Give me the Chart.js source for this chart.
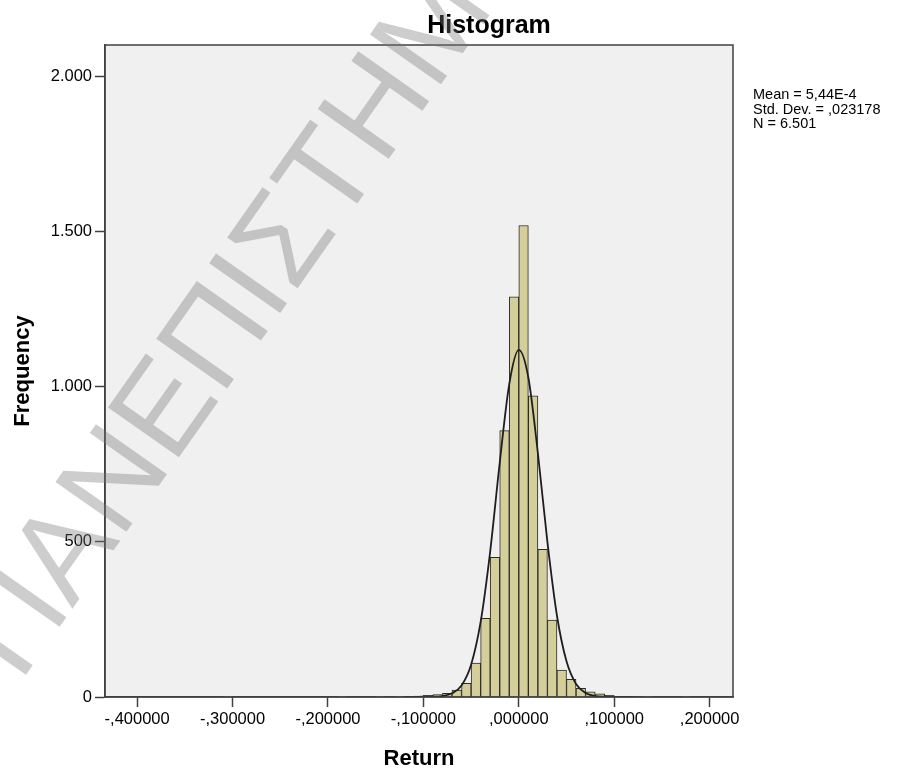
<!DOCTYPE html>
<html>
<head>
<meta charset="utf-8">
<title>Histogram</title>
<script src="https://cdn.jsdelivr.net/npm/chart.js"></script>
<style>
  html, body { margin: 0; padding: 0; background: #fff; }
  canvas { display: block; }
</style>
</head>
<body>
<canvas id="myChart" width="908" height="770"></canvas>
<script>
// ===============================
// Datos leidos del histograma (bins de 0,01)
// ===============================
const binCenters = [-0.305, -0.185, -0.145, -0.125, -0.115, -0.105, -0.095, -0.085, -0.075, -0.065,
                    -0.055, -0.045, -0.035, -0.025, -0.015, -0.005, 0.005, 0.015, 0.025, 0.035,
                    0.045, 0.055, 0.065, 0.075, 0.085, 0.095, 0.105, 0.135, 0.175];
const counts = [1, 1, 1, 2, 2, 3, 5, 8, 12, 22,
                44, 109, 254, 450, 859, 1290, 1520, 971, 476, 248,
                87, 57, 28, 17, 10, 5, 2, 2, 1];

// curva normal
const curveX = [-0.12, -0.11, -0.10, -0.09, -0.08, -0.07, -0.06, -0.05, -0.04, -0.03, -0.02, -0.01, 0,
                0.01, 0.02, 0.03, 0.04, 0.05, 0.06, 0.07, 0.08, 0.09, 0.10, 0.11, 0.12];
const curveY = [0, 0, 1, 1, 3, 12, 37, 104, 242, 469, 755, 1009, 1119,
                1030, 786, 499, 262, 115, 42, 13, 3, 1, 0, 0, 0];

const xTicks = [-0.4, -0.3, -0.2, -0.1, 0, 0.1, 0.2];
const xTickLabels = ['-,400000', '-,300000', '-,200000', '-,100000', ',000000', ',100000', ',200000'];
const yTicks = [0, 500, 1000, 1500, 2000];
const yTickLabels = ['0', '500', '1.000', '1.500', '2.000'];
const statsLines = ['Mean = 5,44E-4', 'Std. Dev. = ,023178', 'N = 6.501'];
const chartTitle = 'Histogram';
const watermark = 'ΠΑΝΕΠΙΣΤΗΜΙΟ ΠΕΙΡΑΙΩΣ';

const FONT = "'Liberation Sans', Arial, sans-serif";

// ===============================
// Plugin: fondo, marco, titulo, estadisticas, marca de agua
// ===============================
const decorPlugin = {
    id: 'decor',
    beforeDraw(chart) {
        const { ctx, chartArea: a } = chart;
        ctx.save();
        ctx.fillStyle = '#fff';
        ctx.fillRect(0, 0, chart.width, chart.height);
        ctx.fillStyle = '#f0f0f0';
        ctx.fillRect(a.left, a.top, a.right - a.left, a.bottom - a.top);
        ctx.restore();
    },
    afterDraw(chart) {
        const { ctx, chartArea: a } = chart;
        ctx.save();
        ctx.strokeStyle = '#404040';
        ctx.lineWidth = 1.5;
        ctx.strokeRect(a.left, a.top, a.right - a.left, a.bottom - a.top);

        ctx.fillStyle = '#000';
        ctx.font = 'bold 25px ' + FONT;
        ctx.textAlign = 'center';
        ctx.textBaseline = 'alphabetic';
        ctx.fillText(chartTitle, 489, 33);

        ctx.font = '14.5px ' + FONT;
        ctx.textAlign = 'left';
        statsLines.forEach((t, i) => ctx.fillText(t, a.right + 20, 99 + i * 14.5));

        // marca de agua
        const size = 126;
        ctx.font = size + 'px ' + FONT;
        const w0 = ctx.measureText('ΠΑΝΕΠΙΣΤ').width;
        const wH = ctx.measureText('Η').width;
        ctx.translate(372, 104);
        ctx.rotate(-54.9 * Math.PI / 180);
        ctx.fillStyle = 'rgba(120,120,120,0.37)';
        ctx.fillText(watermark, -(w0 + wH / 2), 0.358 * size);
        ctx.restore();
    }
};

// ===============================
// Renderizar grafica
// ===============================
function renderChart() {
    const ctx = document.getElementById('myChart').getContext('2d');

    new Chart(ctx, {
        type: 'bar',
        data: {
            datasets: [
                {
                    type: 'line',
                    data: curveX.map((x, i) => ({ x: x, y: curveY[i] })),
                    borderColor: '#1e1e1e',
                    borderWidth: 1.8,
                    pointRadius: 0,
                    fill: false,
                    cubicInterpolationMode: 'monotone',
                    order: 0
                },
                {
                    data: binCenters.map((x, i) => ({ x: x, y: counts[i] })),
                    backgroundColor: '#d4cf9a',
                    borderColor: '#2a2a2a',
                    borderWidth: 1,
                    barPercentage: 1,
                    categoryPercentage: 1,
                    order: 1
                }
            ]
        },
        options: {
            responsive: false,
            animation: false,
            layout: { padding: { top: 45, right: 175, left: 0, bottom: 0 } },
            plugins: {
                legend: { display: false },
                tooltip: { enabled: false },
                title: { display: false }
            },
            scales: {
                x: {
                    type: 'linear',
                    min: -0.4337,
                    max: 0.2245,
                    offset: false,
                    afterBuildTicks: s => { s.ticks = xTicks.map(v => ({ value: v })); },
                    afterFit: s => { s.height = 73; },
                    ticks: {
                        autoSkip: false,
                        maxRotation: 0,
                        padding: 3,
                        color: '#000',
                        font: { family: FONT, size: 16.5 },
                        callback: (v, i) => xTickLabels[i]
                    },
                    grid: { offset: false, drawOnChartArea: false, drawTicks: true, tickLength: 10, color: '#404040', tickWidth: 1.5 },
                    border: { display: true, color: '#404040', width: 1.5 },
                    title: {
                        display: true,
                        text: 'Return',
                        color: '#000',
                        font: { family: FONT, size: 22, weight: 'bold', lineHeight: 1 },
                        padding: { top: 0, bottom: 0 }
                    }
                },
                y: {
                    min: 0,
                    max: 2102,
                    afterBuildTicks: s => { s.ticks = yTicks.map(v => ({ value: v })); },
                    afterFit: s => { s.width = 105; },
                    ticks: {
                        padding: 3,
                        color: '#000',
                        font: { family: FONT, size: 16.5 },
                        callback: (v, i) => yTickLabels[i]
                    },
                    grid: { drawOnChartArea: false, drawTicks: true, tickLength: 10, color: '#404040', tickWidth: 1.5 },
                    border: { display: true, color: '#404040', width: 1.5 },
                    title: {
                        display: true,
                        text: 'Frequency',
                        color: '#000',
                        font: { family: FONT, size: 22, weight: 'bold', lineHeight: 1 },
                        padding: { top: 12, bottom: 0 }
                    }
                }
            }
        },
        plugins: [decorPlugin]
    });
}

document.addEventListener('DOMContentLoaded', renderChart);
</script>
</body>
</html>
